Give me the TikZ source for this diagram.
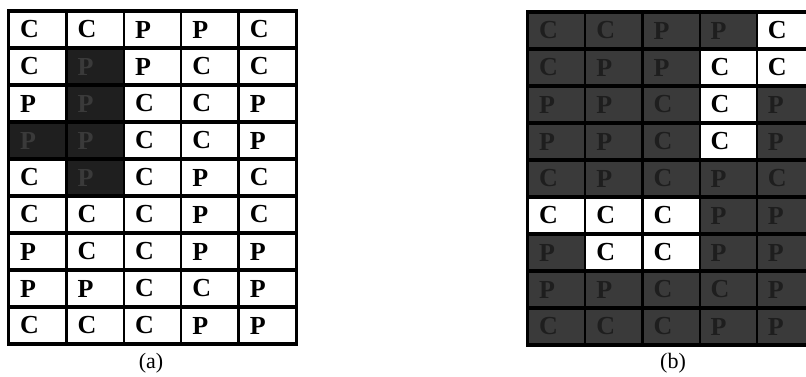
\documentclass[tikz,border=0pt]{standalone}
\usepackage{fontspec}
\setmainfont{Liberation Serif}
\definecolor{darkA}{HTML}{1F1F1F}
\definecolor{darkAtxt}{HTML}{3A3A3A}
\definecolor{darkB}{HTML}{3A3A3A}
\definecolor{darkBtxt}{HTML}{1E1E1E}
\tikzset{
  cellbase/.style={rectangle, inner xsep=10pt, inner ysep=0pt, text width=35pt, align=left,
    minimum height=33.5pt, font=\bfseries\fontsize{26}{26}\selectfont},
  cellw/.style={cellbase, fill=white, text=black},
  celld/.style={cellbase, fill=darkA, text=darkAtxt},
  cellb/.style={cellbase, fill=darkB, text=darkBtxt},
  caption/.style={font=\fontsize{22}{22}\selectfont}
}
\begin{document}
\begin{tikzpicture}[x=1pt,y=-1pt]
\useasboundingbox (0,0) rectangle (806,376);
\clip (0,0) rectangle (806,376);
% grid (a)
\fill[black] (7,9) rectangle (298,346);
\foreach \row [count=\r] in {
  {C/w,C/w,P/w,P/w,C/w},
  {C/w,P/d,P/w,C/w,C/w},
  {P/w,P/d,C/w,C/w,P/w},
  {P/d,P/d,C/w,C/w,P/w},
  {C/w,P/d,C/w,P/w,C/w},
  {C/w,C/w,C/w,P/w,C/w},
  {P/w,C/w,C/w,P/w,P/w},
  {P/w,P/w,C/w,C/w,P/w},
  {C/w,C/w,C/w,P/w,P/w}} {
  \foreach \l/\s [count=\c] in \row {
    \node[cell\s] (a-\r-\c) at ({9+57.4*(\c-0.5)}, {11+37*(\r-0.5)}) {\l};
  }
}
\node[caption] (capa) at (151,363) {(a)};
% grid (b)
\fill[black] (526,10) rectangle (818,347);
\foreach \row [count=\r] in {
  {C/b,C/b,P/b,P/b,C/w},
  {C/b,P/b,P/b,C/w,C/w},
  {P/b,P/b,C/b,C/w,P/b},
  {P/b,P/b,C/b,C/w,P/b},
  {C/b,P/b,C/b,P/b,C/b},
  {C/w,C/w,C/w,P/b,P/b},
  {P/b,C/w,C/w,P/b,P/b},
  {P/b,P/b,C/b,C/b,P/b},
  {C/b,C/b,C/b,P/b,P/b}} {
  \foreach \l/\s [count=\c] in \row {
    \node[cell\s] (b-\r-\c) at ({528+57.2*(\c-0.5)}, {12+37*(\r-0.5)}) {\l};
  }
}
\node[caption] (capb) at (673,363) {(b)};
\end{tikzpicture}
\end{document}
